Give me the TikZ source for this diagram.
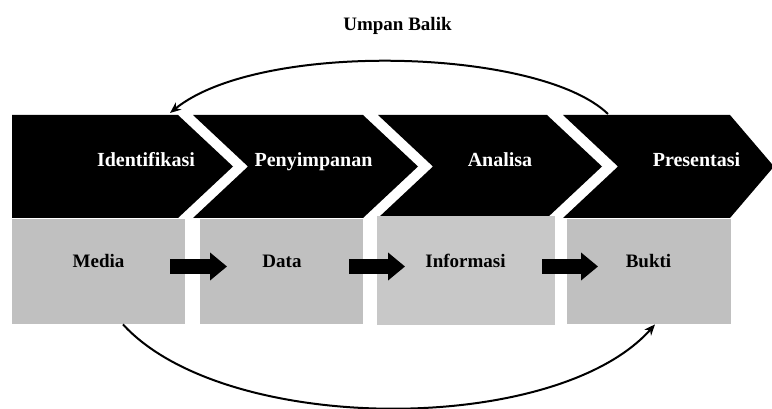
\documentclass[tikz,border=0pt]{standalone}
\usepackage{fontspec}
\setmainfont{Liberation Serif}
\usetikzlibrary{arrows.meta}
\definecolor{boxgray}{HTML}{C0C0C0}
\definecolor{boxgraylight}{HTML}{C8C8C8}
\tikzset{
  chev/.style={fill=black, draw=none},
  graybox/.style={rectangle, fill=boxgray, draw=none, inner sep=0pt, anchor=north west},
  chevlabel/.style={text=white, font=\bfseries\fontsize{20}{24}\selectfont, anchor=base, inner sep=0pt},
  boxlabel/.style={text=black, font=\bfseries\fontsize{19}{23}\selectfont, anchor=base, inner sep=0pt},
  blockarrow/.style={line width=14pt, -{Triangle[length=17pt,width=27pt]}},
  feedback/.style={line width=2pt, -{Stealth[length=11pt,width=9pt]}}
}
\begin{document}
\begin{tikzpicture}[x=1pt,y=-1pt]
\useasboundingbox (0,0) rectangle (772,409);
\clip (0,0) rectangle (772,409);
% chevrons
\path[chev] (12,115) -- (178,115) -- (233,166.5) -- (178,218) -- (12,218) -- cycle;
\path[chev] (193,115) -- (363,115) -- (418,166.5) -- (363,218) -- (193,218) -- (248,166.5) -- cycle;
\path[chev] (378,115) -- (547,115) -- (602,166.5) -- (547,218) -- (378,218) -- (433,166.5) -- cycle;
\path[chev] (563,115) -- (730,115) -- (774,166.5) -- (730,218) -- (563,218) -- (618,166.5) -- cycle;
% gray boxes
\node[graybox, minimum width=173pt, minimum height=105pt] (b1) at (12,219) {};
\node[graybox, minimum width=163pt, minimum height=105pt] (b2) at (200,219) {};
\node[graybox, fill=boxgraylight, minimum width=178pt, minimum height=109pt] (b3) at (377,216) {};
\node[graybox, minimum width=164pt, minimum height=105pt] (b4) at (567,219) {};
% chevron labels
\node[chevlabel] (l1) at (146,167) {Identifikasi};
\node[chevlabel] (l2) at (313.5,167) {Penyimpanan};
\node[chevlabel] (l3) at (500,167) {Analisa};
\node[chevlabel] (l4) at (696.5,167) {Presentasi};
% box labels
\node[boxlabel] (t1) at (98.5,268) {Media};
\node[boxlabel] (t2) at (282,268) {Data};
\node[boxlabel] (t3) at (465.5,268) {Informasi};
\node[boxlabel] (t4) at (648.5,268) {Bukti};
\node[boxlabel] (ub) at (397.5,31) {Umpan Balik};
% block arrows
\coordinate (a1s) at (170,266.5); \coordinate (a1e) at (227,266.5);
\coordinate (a2s) at (349,266.5); \coordinate (a2e) at (405,266.5);
\coordinate (a3s) at (542,266.5); \coordinate (a3e) at (598,266.5);
\draw[blockarrow] (a1s) -- (a1e);
\draw[blockarrow] (a2s) -- (a2e);
\draw[blockarrow] (a3s) -- (a3e);
% feedback arcs
\coordinate (fbTopS) at (608,114);
\coordinate (fbTopE) at (170,113);
\draw[feedback] (fbTopS) .. controls (540,48) and (260,40) .. (fbTopE);
\coordinate (fbBotS) at ([xshift=111pt]b1.south west);
\coordinate (fbBotE) at ([xshift=88pt]b4.south west);
\draw[feedback] (fbBotS) .. controls (225,436) and (556,436) .. (fbBotE);
\end{tikzpicture}
\end{document}
